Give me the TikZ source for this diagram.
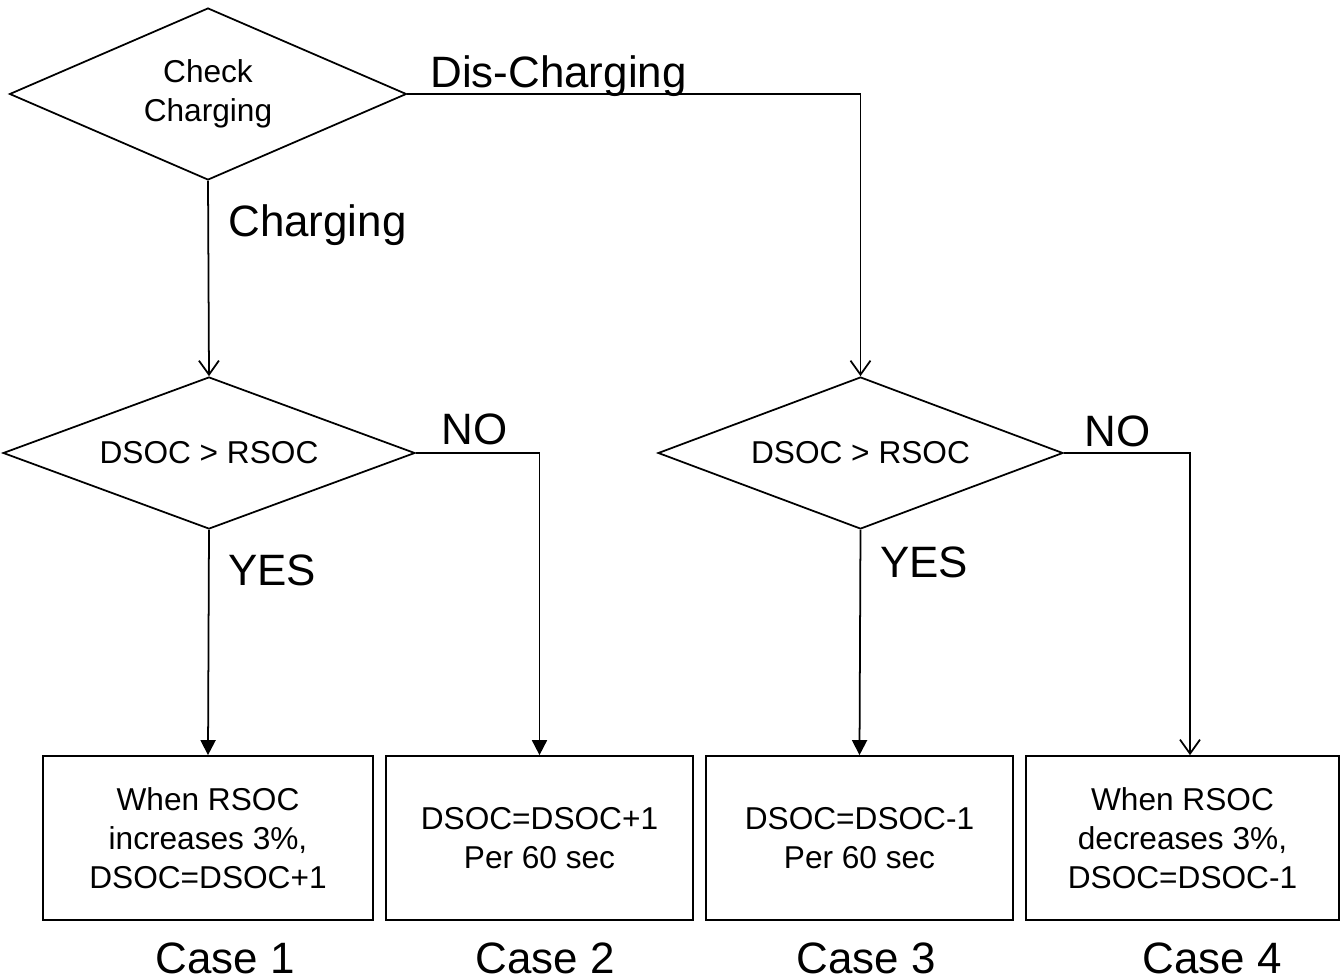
\documentclass[tikz,border=0pt]{standalone}
\usepackage{fontspec}
\setmainfont{Liberation Sans}
\usetikzlibrary{shapes.geometric,arrows.meta}

\tikzset{
  decision/.style={draw,diamond,line width=1pt,inner sep=0pt,align=center,
    font=\fontsize{18}{22}\selectfont},
  casebox/.style={draw,rectangle,line width=1pt,inner sep=0pt,align=center,
    minimum height=3.28cm,font=\fontsize{18}{22.2}\selectfont},
  biglabel/.style={inner sep=0pt,font=\fontsize{25}{30}\selectfont},
  openarrow/.style={line width=1pt,-{Straight Barb[length=0.28cm,width=0.4cm]}},
  fullarrow/.style={line width=1pt,-{Triangle[length=0.3cm,width=0.3cm]}}
}

\begin{document}
\begin{tikzpicture}[x=0.02cm,y=-0.02cm]
	\useasboundingbox (0,0) rectangle (1343,980);

	% Decisions
	\node[decision,minimum width=7.94cm,minimum height=3.44cm,aspect=2.3] (chk) at (208,94) {Check\\Charging};
	\node[decision,minimum width=8.24cm,minimum height=3.04cm,aspect=2.7] (dleft) at (209,453) {DSOC > RSOC};
	\node[decision,minimum width=8.10cm,minimum height=3.04cm,aspect=2.7] (dright) at (860.5,453) {DSOC > RSOC};

	% Cases
	\node[casebox,minimum width=6.60cm] (caseone) at (208,838) {When RSOC\\increases 3\%,\\DSOC=DSOC+1};
	\node[casebox,minimum width=6.14cm] (casetwo) at (539.5,838) {DSOC=DSOC+1\\Per 60 sec};
	\node[casebox,minimum width=6.14cm] (casethree) at (859.5,838) {DSOC=DSOC-1\\Per 60 sec};
	\node[casebox,minimum width=6.26cm] (casefour) at (1182.5,838) {When RSOC\\decreases 3\%,\\DSOC=DSOC-1};

	\node[biglabel,anchor=base] (nameone) at (225,973) {Case 1};
	\node[biglabel,anchor=base] (nametwo) at (545,973) {Case 2};
	\node[biglabel,anchor=base] (namethree) at (866,973) {Case 3};
	\node[biglabel,anchor=base] (namefour) at (1212,973) {Case 4};

	% Branches
	\draw[openarrow] (chk.south) -- (dleft.north);
	\draw[openarrow] (chk.east) -| (dright.north);
	\draw[fullarrow] (dleft.south) -- (caseone.north);
	\draw[fullarrow] (dleft.east) -| (casetwo.north);
	\draw[fullarrow] (dright.south) -- (casethree.north);
	\draw[openarrow] (dright.east) -| ([xshift=0.15cm]casefour.north);

	% Branch labels
	\node[biglabel,anchor=base west] (lbldis) at (430,88) {Dis-Charging};
	\node[biglabel,anchor=base west] (lblchg) at (228,236) {Charging};
	\node[biglabel,anchor=base west] (lblnoone) at (441,444) {NO};
	\node[biglabel,anchor=base west] (lblyesone) at (228,585) {YES};
	\node[biglabel,anchor=base west] (lblnotwo) at (1084,446) {NO};
	\node[biglabel,anchor=base west] (lblyestwo) at (880,577) {YES};
\end{tikzpicture}
\end{document}
